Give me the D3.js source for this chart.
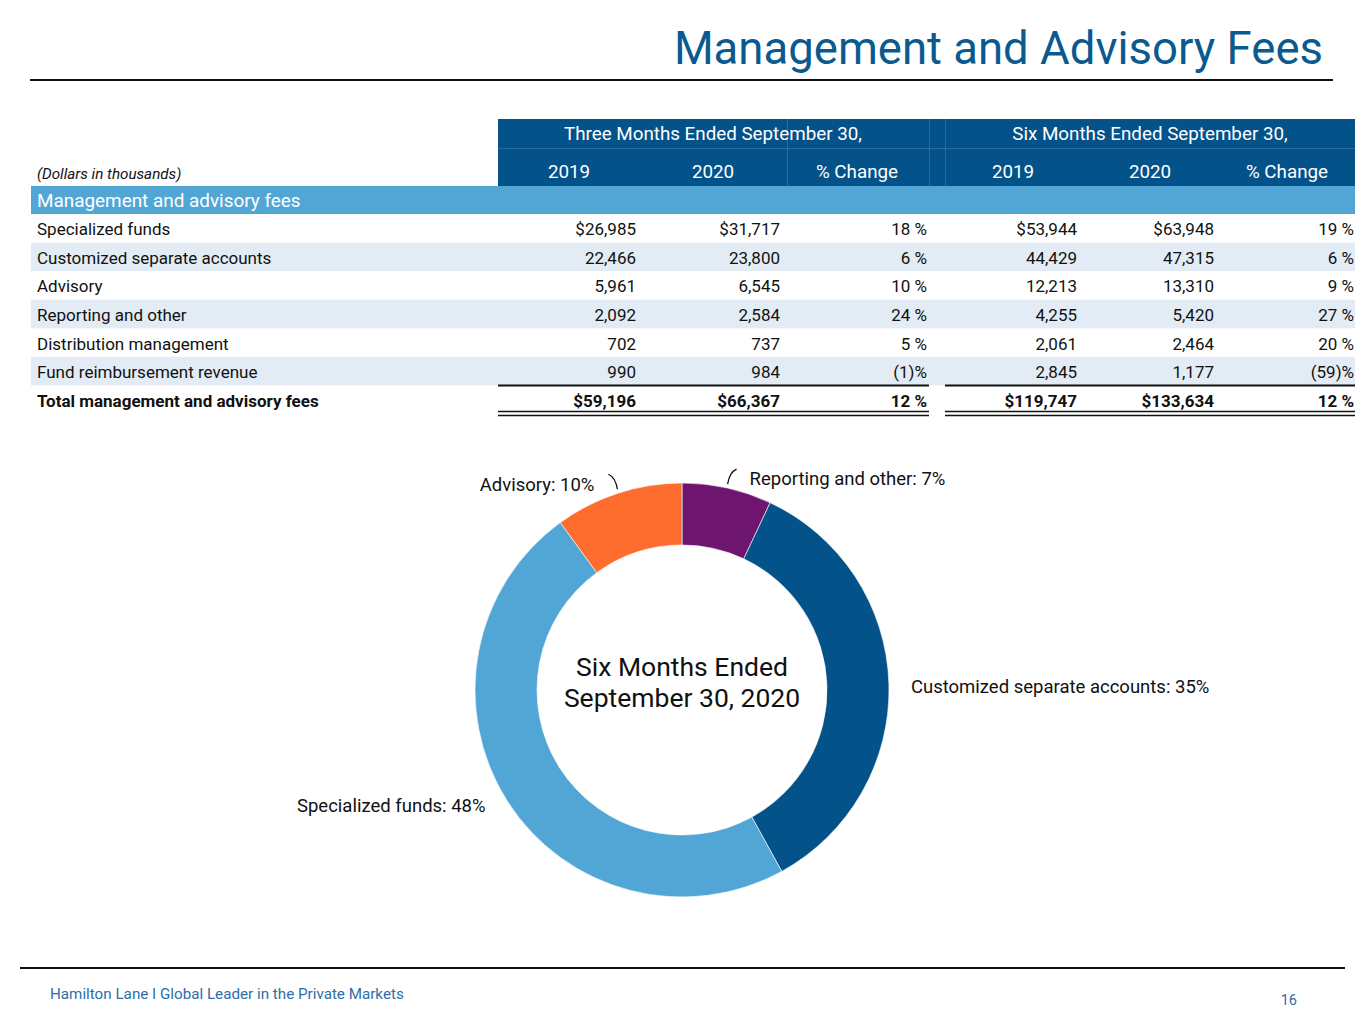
<!DOCTYPE html>
<html>
<head>
<meta charset="utf-8">
<script src="https://cdn.jsdelivr.net/npm/d3@7"></script>
<style>
  body { margin: 0; background: #fff; }
  svg { font-family: Roboto, "Noto Sans", sans-serif; }
</style>
</head>
<body>
<div id="chart"></div>
<script>

// table data
var rowLabels = ["Specialized funds", "Customized separate accounts", "Advisory",
  "Reporting and other", "Distribution management", "Fund reimbursement revenue",
  "Total management and advisory fees"];
var threeMonth2019 = ["$26,985", "22,466", "5,961", "2,092", "702", "990", "$59,196"];
var threeMonth2020 = ["$31,717", "23,800", "6,545", "2,584", "737", "984", "$66,367"];
var threeMonthChange = ["18 %", "6 %", "10 %", "24 %", "5 %", "(1)%", "12 %"];
var sixMonth2019 = ["$53,944", "44,429", "12,213", "4,255", "2,061", "2,845", "$119,747"];
var sixMonth2020 = ["$63,948", "47,315", "13,310", "5,420", "2,464", "1,177", "$133,634"];
var sixMonthChange = ["19 %", "6 %", "9 %", "27 %", "20 %", "(59)%", "12 %"];
var groupHeaders = ["Three Months Ended September 30,", "Six Months Ended September 30,"];
var columnHeaders = ["2019", "2020", "% Change"];

// donut data (six months ended Sept 30, 2020)
var sliceNames = ["Reporting and other", "Customized separate accounts", "Specialized funds", "Advisory"];
var slicePercents = [7, 35, 48, 10];
var sliceColors = ["#6e1570", "#04528a", "#52a6d6", "#ff6d2e"];

var W = 1365, H = 1024;
var darkBlue = "#04528a", band = "#52a6d6", shade = "#e3ecf4";

var svg = d3.select("#chart").append("svg")
    .attr("width", W)
    .attr("height", H);

// title
svg.append("text")
    .attr("x", 1323).attr("y", 64)
    .attr("text-anchor", "end")
    .attr("font-size", 45.5)
    .attr("fill", "#0b5a8f")
    .text("Management and Advisory Fees");
svg.append("line")
    .attr("x1", 30).attr("x2", 1333).attr("y1", 80).attr("y2", 80)
    .attr("stroke", "#111").attr("stroke-width", 2);

// ---- table ----
var tableLeft = 31, tableRight = 1355;
var blocks = [{x0: 498, x1: 929}, {x0: 945, x1: 1355}];
var colRight = [[636, 780, 927], [1077, 1214, 1354]];
var colCenter = [[569, 713, 857], [1013, 1150, 1287]];
var columns = [[threeMonth2019, threeMonth2020, threeMonthChange],
               [sixMonth2019, sixMonth2020, sixMonthChange]];

var y = d3.scaleBand()
    .domain(d3.range(rowLabels.length))
    .range([214, 414]);

// header background
svg.append("rect")
    .attr("x", 498).attr("y", 119)
    .attr("width", tableRight - 498).attr("height", 67)
    .attr("fill", darkBlue);
// faint grid inside header
var hg = svg.append("g").attr("stroke", "#2d6b9c").attr("stroke-width", 1);
hg.append("line").attr("x1", 498).attr("x2", tableRight).attr("y1", 148.5).attr("y2", 148.5);
[787.5, 929.5, 945.5].forEach(function (x) {
  hg.append("line").attr("x1", x).attr("x2", x).attr("y1", 119).attr("y2", 186);
});

groupHeaders.forEach(function (t, i) {
  svg.append("text")
      .attr("x", (colCenter[i][0] + colCenter[i][2]) / 2).attr("y", 140)
      .attr("text-anchor", "middle")
      .attr("font-size", 18.8).attr("fill", "#fff")
      .text(t);
  columnHeaders.forEach(function (h, j) {
    svg.append("text")
        .attr("x", colCenter[i][j]).attr("y", 178)
        .attr("text-anchor", "middle")
        .attr("font-size", 18.8).attr("fill", "#fff")
        .text(h);
  });
});

svg.append("text")
    .attr("x", 37).attr("y", 179)
    .attr("font-size", 15.2).attr("font-style", "italic").attr("fill", "#111")
    .text("(Dollars in thousands)");

// section band
svg.append("rect")
    .attr("x", tableLeft).attr("y", 186)
    .attr("width", tableRight - tableLeft).attr("height", 28)
    .attr("fill", band);
svg.append("text")
    .attr("x", 37).attr("y", 207)
    .attr("font-size", 18.9).attr("fill", "#fff")
    .text("Management and advisory fees");

// rows
var rows = svg.append("g").selectAll("g")
    .data(rowLabels)
    .join("g")
    .attr("transform", function (d, i) { return "translate(0," + y(i) + ")"; });

rows.filter(function (d, i) { return i % 2 === 1 && i < rowLabels.length - 1; })
    .append("rect")
    .attr("x", tableLeft).attr("width", tableRight - tableLeft)
    .attr("height", y.bandwidth())
    .attr("fill", shade);

var isTotal = function (i) { return i === rowLabels.length - 1; };

rows.append("text")
    .attr("x", 37).attr("y", y.bandwidth() / 2 + 7)
    .attr("font-size", 17)
    .attr("font-weight", function (d, i) { return isTotal(i) ? "bold" : null; })
    .attr("fill", "#111")
    .text(function (d) { return d; });

columns.forEach(function (blockCols, b) {
  blockCols.forEach(function (vals, c) {
    rows.append("text")
        .attr("x", colRight[b][c]).attr("y", y.bandwidth() / 2 + 7)
        .attr("text-anchor", "end")
        .attr("font-size", 17)
        .attr("font-weight", function (d, i) { return isTotal(i) ? "bold" : null; })
        .attr("fill", "#111")
        .text(function (d, i) { return vals[i]; });
  });
});

// total rules
var totalTop = y(rowLabels.length - 1);
blocks.forEach(function (bk) {
  svg.append("line")
      .attr("x1", bk.x0).attr("x2", bk.x1).attr("y1", totalTop).attr("y2", totalTop)
      .attr("stroke", "#111").attr("stroke-width", 2);
  [411.5, 415.5].forEach(function (yy) {
    svg.append("line")
        .attr("x1", bk.x0).attr("x2", bk.x1).attr("y1", yy).attr("y2", yy)
        .attr("stroke", "#111").attr("stroke-width", 1.6);
  });
});

// ---- donut ----
var cx = 682, cy = 690, outerR = 207, innerR = 145;
var pieData = d3.pie().sort(null).value(function (d) { return d; })(slicePercents);
var arc = d3.arc().innerRadius(innerR).outerRadius(outerR);

var donut = svg.append("g").attr("transform", "translate(" + cx + "," + cy + ")");
donut.selectAll("path")
    .data(pieData)
    .join("path")
    .attr("d", arc)
    .attr("fill", function (d, i) { return sliceColors[i]; })
    .attr("stroke", "#fff")
    .attr("stroke-width", 0.6);

donut.append("text")
    .attr("text-anchor", "middle").attr("y", -14)
    .attr("font-size", 26.5).attr("fill", "#111")
    .text("Six Months Ended");
donut.append("text")
    .attr("text-anchor", "middle").attr("y", 17)
    .attr("font-size", 26.5).attr("fill", "#111")
    .text("September 30, 2020");

// labels: anchored to each slice's mid angle on the outer edge
var labelOffsets = [
  {dx: 22, dy: -1, anchor: "start", leader: 1},
  {dx: 20, dy: 10, anchor: "end" === "x" ? "end" : "start", leader: 0},
  {dx: -20, dy: 10, anchor: "end", leader: 0},
  {dx: -23, dy: 0, anchor: "end", leader: -1}
];

pieData.forEach(function (d, i) {
  var a = (d.startAngle + d.endAngle) / 2;
  var px = Math.sin(a) * (outerR + 2), py = -Math.cos(a) * (outerR + 2);
  var o = labelOffsets[i];
  if (o.leader !== 0) {
    // small curved leader going up from the slice edge
    var s = o.leader;
    donut.append("path")
        .attr("d", "M" + px + "," + (py - 2) +
                   " Q" + (px + s * 2) + "," + (py - 14) + " " + (px + s * 9) + "," + (py - 17))
        .attr("fill", "none").attr("stroke", "#111").attr("stroke-width", 1.3);
  }
  donut.append("text")
      .attr("x", px + o.dx).attr("y", py + o.dy)
      .attr("text-anchor", o.anchor)
      .attr("font-size", 18.5).attr("fill", "#111")
      .text(sliceNames[i] + ": " + slicePercents[i] + "%");
});

// footer
svg.append("line")
    .attr("x1", 20).attr("x2", 1345).attr("y1", 968).attr("y2", 968)
    .attr("stroke", "#111").attr("stroke-width", 2);
svg.append("text")
    .attr("x", 50).attr("y", 999)
    .attr("font-size", 15.2).attr("fill", "#2e6ea6")
    .text("Hamilton Lane I Global Leader in the Private Markets");
svg.append("text")
    .attr("x", 1297).attr("y", 1005)
    .attr("text-anchor", "end")
    .attr("font-size", 14.5).attr("fill", "#2e6ea6")
    .text("16");
</script>
</body>
</html>
